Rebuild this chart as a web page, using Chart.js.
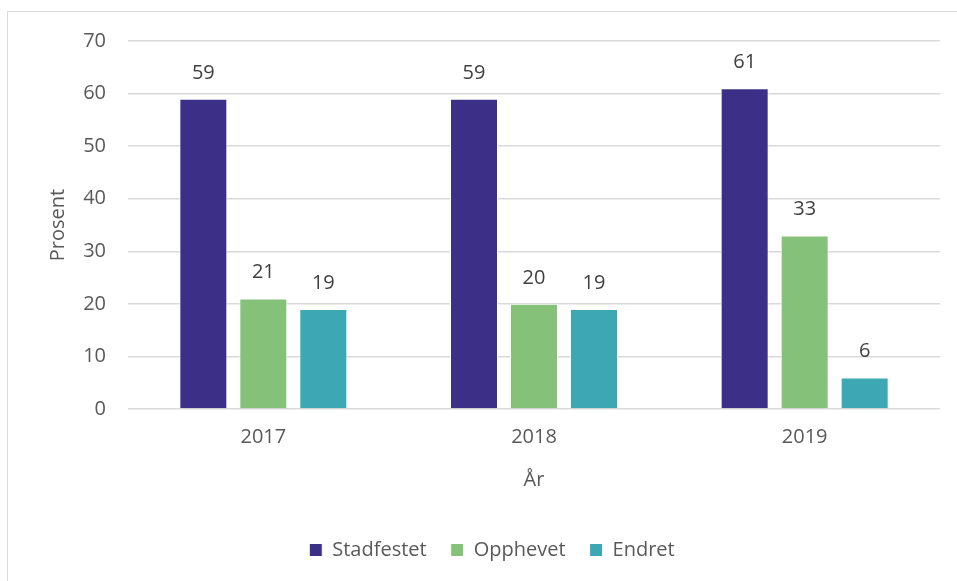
<!DOCTYPE html>
<html>
<head>
<meta charset="utf-8">
<script src="https://cdn.jsdelivr.net/npm/chart.js@4"></script>
<style>
    body { margin: 0; overflow: hidden; background: #fff; }
    .frame { position: absolute; left: 7px; top: 11px; width: 1000px; height: 1000px;
             border-left: 1px solid #d9d9d9; border-top: 1px solid #d9d9d9; }
    #chart { position: absolute; left: 0; top: 0; }
</style>
</head>
<body>
<div class="frame"></div>
<canvas id="chart" width="957" height="581"></canvas>
<script>
"use strict";

const years = ["2017", "2018", "2019"];
const stadfestet = [59, 59, 61];
const opphevet = [21, 20, 33];
const endret = [19, 19, 6];

const textColor = "#595959";
const fontFamily = "'Open Sans', 'DejaVu Sans', sans-serif";

// draws the number above every bar
const barLabels = {
    id: "barLabels",
    afterDatasetsDraw(chart) {
        const ctx = chart.ctx;
        ctx.save();
        ctx.font = `20px ${fontFamily}`;
        ctx.fillStyle = "#404040";
        ctx.textAlign = "center";
        ctx.textBaseline = "middle";
        chart.data.datasets.forEach((ds, i) => {
            chart.getDatasetMeta(i).data.forEach((bar, j) => {
                ctx.fillText(ds.data[j], bar.x, bar.y - 26);
            });
        });
        ctx.restore();
    }
};

const ctx = document.getElementById("chart").getContext("2d");

new Chart(ctx, {
    type: "bar",
    data: {
        labels: years,
        datasets: [
            { label: "Stadfestet", data: stadfestet, backgroundColor: "#3c2f87" },
            { label: "Opphevet", data: opphevet, backgroundColor: "#86c17a" },
            { label: "Endret", data: endret, backgroundColor: "#3da8b3" }
        ].map(ds => ({ ...ds, borderColor: "#ffffff", borderWidth: 1,
                       barPercentage: 0.8, categoryPercentage: 0.665 }))
    },
    options: {
        responsive: false,
        animation: false,
        layout: { padding: { left: 44, right: 17, top: 41, bottom: 11 } },
        plugins: {
            tooltip: { enabled: false },
            legend: {
                position: "bottom",
                labels: {
                    boxWidth: 13,
                    boxHeight: 13,
                    padding: 24,
                    color: textColor,
                    font: { family: fontFamily, size: 20 }
                }
            }
        },
        scales: {
            x: {
                grid: { display: false, drawTicks: false },
                border: { display: false },
                ticks: { color: textColor, padding: 16, font: { family: fontFamily, size: 20 } },
                title: { display: true, text: "År", color: textColor,
                         font: { family: fontFamily, size: 20 }, padding: { top: 0, bottom: 24 } },
                afterFit: (scale) => { scale.height = 107; }
            },
            y: {
                min: 0,
                max: 70,
                ticks: { stepSize: 10, color: textColor, padding: 22, font: { family: fontFamily, size: 20 } },
                grid: { color: "#d9d9d9", lineWidth: 1.5, drawTicks: false },
                border: { display: false },
                title: { display: true, text: "Prosent", color: textColor,
                         font: { family: fontFamily, size: 20 }, padding: { top: 2, bottom: 0 } },
                afterFit: (scale) => { scale.width = 84; }
            }
        }
    },
    plugins: [barLabels]
});
</script>
</body>
</html>
